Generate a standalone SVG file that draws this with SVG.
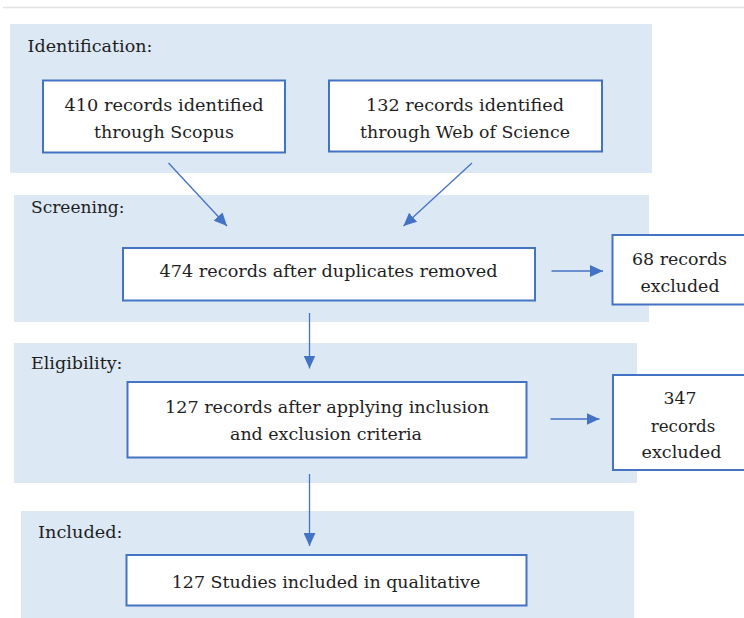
<svg xmlns="http://www.w3.org/2000/svg" width="744" height="618" viewBox="0 0 744 618">
  <style>
    .band { fill: #dde8f5; }
    .box { fill: #ffffff; stroke: #4472c4; stroke-width: 2; }
    .lbl { font-family: "DejaVu Serif", "Liberation Serif", serif; font-size: 17px; fill: #1e1e1e; }
    .mid { text-anchor: middle; }
    .conn { stroke: #4472c4; stroke-width: 1.3; fill: none; marker-end: url(#head); }
  </style>
  <defs>
    <marker id="head" markerUnits="userSpaceOnUse" markerWidth="14" markerHeight="12" refX="13" refY="6" orient="auto">
      <path d="M0,0 L13,6 L0,12 Z" fill="#4472c4"/>
    </marker>
  </defs>

  <rect width="744" height="618" fill="#ffffff"/>
  <line x1="3" y1="7.5" x2="744" y2="7.5" stroke="#e2e2e2" stroke-width="1.5"/>

  <!-- stage bands -->
  <g id="stage-identification">
    <rect class="band" x="10" y="24" width="642" height="149"/>
    <text class="lbl" x="27.5" y="52" textLength="125" lengthAdjust="spacingAndGlyphs">Identification:</text>
  </g>
  <g id="stage-screening">
    <rect class="band" x="14" y="195" width="635" height="127"/>
    <text class="lbl" x="31" y="213" textLength="93.5" lengthAdjust="spacingAndGlyphs">Screening:</text>
  </g>
  <g id="stage-eligibility">
    <rect class="band" x="14" y="343" width="623" height="140"/>
    <text class="lbl" x="31" y="369" textLength="91.5" lengthAdjust="spacingAndGlyphs">Eligibility:</text>
  </g>
  <g id="stage-included">
    <rect class="band" x="21" y="511" width="613" height="107"/>
    <text class="lbl" x="38" y="538" textLength="84.5" lengthAdjust="spacingAndGlyphs">Included:</text>
  </g>

  <!-- nodes -->
  <g id="scopus">
    <rect class="box" x="43" y="80.5" width="242" height="72"/>
    <text class="lbl mid" x="164" y="111" textLength="199" lengthAdjust="spacingAndGlyphs">410 records identified</text>
    <text class="lbl mid" x="164" y="138" textLength="140" lengthAdjust="spacingAndGlyphs">through Scopus</text>
  </g>
  <g id="wos">
    <rect class="box" x="329" y="80.5" width="273" height="71"/>
    <text class="lbl mid" x="465" y="111" textLength="198" lengthAdjust="spacingAndGlyphs">132 records identified</text>
    <text class="lbl mid" x="465" y="138" textLength="210" lengthAdjust="spacingAndGlyphs">through Web of Science</text>
  </g>
  <g id="deduplicated">
    <rect class="box" x="123" y="248" width="412" height="52.5"/>
    <text class="lbl mid" x="328.5" y="277" textLength="338" lengthAdjust="spacingAndGlyphs">474 records after duplicates removed</text>
  </g>
  <g id="excluded-68">
    <rect class="box" x="612.5" y="235" width="140" height="69.5"/>
    <text class="lbl mid" x="679.5" y="265" textLength="95" lengthAdjust="spacingAndGlyphs">68 records</text>
    <text class="lbl mid" x="680" y="292" textLength="79" lengthAdjust="spacingAndGlyphs">excluded</text>
  </g>
  <g id="eligible">
    <rect class="box" x="127.5" y="382" width="399" height="75.5"/>
    <text class="lbl mid" x="327" y="413" textLength="324" lengthAdjust="spacingAndGlyphs">127 records after applying inclusion</text>
    <text class="lbl mid" x="326" y="440" textLength="192" lengthAdjust="spacingAndGlyphs">and exclusion criteria</text>
  </g>
  <g id="excluded-347">
    <rect class="box" x="613" y="375" width="140" height="95"/>
    <text class="lbl mid" x="680" y="404" textLength="33" lengthAdjust="spacingAndGlyphs">347</text>
    <text class="lbl mid" x="683" y="432" textLength="64.5" lengthAdjust="spacingAndGlyphs">records</text>
    <text class="lbl mid" x="681.5" y="458" textLength="80" lengthAdjust="spacingAndGlyphs">excluded</text>
  </g>
  <g id="included">
    <rect class="box" x="126.5" y="555" width="400" height="50.5"/>
    <text class="lbl mid" x="326" y="588" textLength="308.5" lengthAdjust="spacingAndGlyphs">127 Studies included in qualitative</text>
  </g>

  <!-- connectors -->
  <g id="connectors">
    <line class="conn" x1="168.5" y1="163" x2="227" y2="226"/>
    <line class="conn" x1="472" y1="163" x2="403.5" y2="226"/>
    <line class="conn" x1="551.5" y1="271" x2="603" y2="271"/>
    <line class="conn" x1="309.5" y1="313" x2="309.5" y2="368.5"/>
    <line class="conn" x1="550.5" y1="419" x2="599.5" y2="419"/>
    <line class="conn" x1="309.5" y1="474" x2="309.5" y2="546"/>
  </g>
</svg>
